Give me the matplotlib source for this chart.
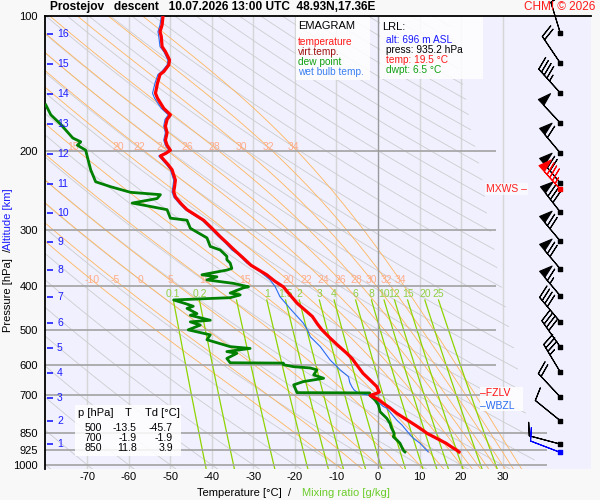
import numpy as np
import matplotlib
matplotlib.use("Agg")
import matplotlib.pyplot as plt
from matplotlib.patches import Rectangle

plt.rcParams['font.family'] = ['Liberation Sans', 'DejaVu Sans']

# ---- sounding ----
t_p = [935.2, 930, 910, 894.6, 872, 850, 838, 820, 800, 767,
       745, 729, 712, 700, 694, 688, 679, 669, 647, 625,
       599, 580, 564, 540, 522, 500, 485, 467, 450, 436,
       420, 401, 390, 377, 359, 345, 332, 320, 310, 297,
       285, 270, 262, 253, 246, 240, 232, 226, 220, 214,
       209, 205, 202, 199, 194, 189, 182, 176, 170, 166,
       160.6, 152.5, 148.6, 141, 135, 133, 128.6, 125.3, 120, 117,
       111, 108.4, 104.7, 100.4]
t_c = [19.5, 19.2, 17.6, 16.4, 14.1, 11.8, 10.9, 9.4, 7.6, 4.5,
       2.8, 1.3, -0.2, -1.9, -0.6, 0.3, 0.0, -0.3, -1.9, -3.6,
       -5.1, -6.2, -7.5, -9.8, -11.5, -13.5, -14.6, -15.8, -17.8, -19.5,
       -21.0, -22.8, -24.8, -26.8, -30.6, -32.6, -34.6, -36.4, -38.0, -40.0,
       -42.0, -46.0, -47.4, -48.8, -49.2, -49.0, -48.8, -49.2, -49.6, -50.6,
       -51.6, -52.4, -51.0, -50.0, -50.8, -51.2, -50.8, -51.2, -50.8, -50.0,
       -51.6, -53.1, -53.6, -53.1, -52.5, -51.6, -50.4, -50.2, -51.2, -52.0,
       -52.2, -52.5, -52.0, -51.8]

tw_p = [935.2, 894, 872, 843, 815, 794, 770, 747, 741, 720,
        700, 692, 680, 669, 655, 636, 614, 584, 545, 518,
        500, 483, 448, 422, 400, 387, 371, 355, 340, 332,
        320, 310, 297, 285, 270, 262, 253, 246, 240, 232,
        226, 220, 214, 209, 205, 202, 199, 194, 189, 182,
        176, 170, 166, 160.6, 152.5, 148.6, 141, 135, 133, 128.6,
        125.3, 120, 117, 111, 108.4, 104.7, 100.4]
tw_c = [12.1, 10.1, 8.5, 7.1, 5.8, 4.5, 3.3, 2.1, 1.3, -0.3,
        -1.9, -4.7, -5.8, -6.3, -6.8, -7.1, -9.1, -11.5, -13.9, -16.3,
        -17.0, -18.0, -21.2, -23.6, -24.8, -26.0, -28.4, -31.6, -33.6, -35.2,
        -36.8, -38.4, -40.4, -42.4, -46.4, -47.8, -49.2, -49.6, -49.4, -49.2,
        -49.6, -50.0, -51.0, -52.0, -52.8, -51.4, -50.4, -51.2, -51.6, -51.2,
        -51.6, -51.3, -50.5, -52.2, -53.8, -54.3, -53.7, -53.0, -52.1, -50.8,
        -50.6, -51.6, -52.5, -52.8, -53.0, -52.5, -52.2]

td_p = [935.2, 930, 915, 894.6, 879, 865, 850, 843, 825, 808,
        787, 761, 735, 717, 700, 691, 690, 663, 652, 641,
        630, 614, 608, 604, 598, 593, 592, 579, 564, 559,
        550, 545, 526, 513, 500, 488, 480, 476, 464, 460,
        448, 443, 437, 429, 426, 424, 418, 414, 403, 401,
        394, 387, 381, 377, 368, 365, 355, 349, 343, 332,
        326, 312, 297, 285, 282, 270, 263, 261, 255, 250,
        247, 240, 234, 220, 206, 199, 194, 190.6, 187, 180.8,
        174.3, 166, 157.8]
td_c = [6.5, 6.2, 5.8, 5.3, 4.5, 3.7, 3.9, 3.7, 3.2, 2.9,
        2.1, 0.5, 0.1, -0.7, -1.9, -2.0, -19.5, -20.3, -18.0, -13.1,
        -15.5, -14.7, -16.3, -20.3, -22.8, -22.8, -35.6, -36.4, -34.0, -36.4,
        -30.8, -35.6, -41.2, -40.4, -45.7, -42.8, -45.2, -40.4, -45.2, -43.6,
        -46.0, -44.5, -46.4, -49.2, -41.2, -35.6, -33.2, -35.6, -32.4, -31.2,
        -34.8, -41.2, -38.8, -42.4, -36.4, -35.2, -35.6, -36.4, -36.4, -38.0,
        -40.4, -41.2, -45.2, -46.0, -50.0, -50.8, -57.2, -59.2, -53.2, -52.4,
        -59.6, -64.4, -68.0, -69.2, -70.0, -70.4, -72.4, -71.6, -73.5, -74.9,
        -76.4, -78.8, -80.0]

# wind, roughly every km
wind_p = [109.1, 127.3, 148.4, 173.1, 201.9, 235.5, 273.3, 317.1, 365.9, 420.1,
          480.3, 546.0, 620.7, 705.6, 796.7, 898.4]
wind_dir = [343, 326, 318, 317, 320, 320, 322, 320, 320, 320,
            320, 325, 329, 317, 309, 285]
wind_kt = [10, 20, 45, 50, 60, 70, 80, 70, 70, 65,
           40, 40, 35, 20, 10, 10]
mxws_p, mxws_dir, mxws_kt = 242.9, 318, 85
lrl_wind_dir, lrl_wind_kt = 291, 10

# altitude marks [km] and their pressure
alt_km = list(range(1, 17))
alt_p = [897.5, 796.7, 708.0, 623.3, 548.7, 483.0, 422.6, 367.7, 318.5, 274.6,
         236.6, 202.9, 174.0, 149.1, 127.9, 109.7]

# surface (LRL) info and table
lrl_alt, lrl_p, lrl_t, lrl_td = 696, 935.2, 19.5, 6.5
tab_p = [500, 700, 850]
tab_t = [-13.5, -1.9, 11.8]
tab_td = [-45.7, -1.9, 3.9]
fzlv_p, wbzl_p = 691, 739

# diagram background sets
isobar_p = [200, 300, 400, 500, 600, 700, 850, 925, 1000]
isobar_end = [28.4, 28.4, 28.4, 28.4, 28.4, 28.4, 40.7, 40.7, 40.7]
isotherms = list(range(-70, 31, 10))
theta_c = np.arange(-80, 300, 10)
thw_c = [-10, -5, 0, 5, 10, 15, 20, 22, 24, 26, 28, 30, 32, 34]
mix_g = [0.1, 0.2, 0.5, 1, 1.5, 2, 3, 4, 6, 8, 10, 12, 15, 20, 25]
mix_lab = ['0.1', '0.2', '.5', '1', '1.5', '2', '3', '4', '6', '8', '10', '12', '15', '20', '25']

PTOP, PBOT = 100, 1020.7
TMIN, TMAX = -80.2, 51.3

Rd, Cpd, Lv, eps = 287.04, 1005.7, 2.501e6, 0.622


def es(tk):
    return 6.112 * np.exp(17.67 * (tk - 273.15) / (tk - 29.65))


def dtdp(tk, p):
    rs = eps * es(tk) / (p - es(tk))
    return (Rd * tk + Lv * rs) / (p * (Cpd + Lv ** 2 * rs * eps / (Rd * tk ** 2)))


def moist(t0, pg):
    tk = np.array(t0, float) + 273.15
    out = [tk.copy()]
    for i in range(1, len(pg)):
        dp = pg[i] - pg[i - 1]
        k1 = dtdp(tk, pg[i - 1])
        k2 = dtdp(tk + k1 * dp, pg[i])
        tk = tk + 0.5 * (k1 + k2) * dp
        out.append(tk.copy())
    return np.array(out) - 273.15


fig = plt.figure(figsize=(6, 5), dpi=100, facecolor='#f8f8f8')
ax = fig.add_axes([45 / 600, 1 - 469 / 500, 546 / 600, 453 / 500])
ax.set_facecolor('#f0f0ff')
ax.set_yscale('log')
ax.set_ylim(PBOT, PTOP)
ax.set_xlim(TMIN, TMAX)

pg = np.geomspace(PBOT, PTOP, 300)

# isotherms
ax.vlines([t for t in isotherms if t != 0], PBOT, PTOP, colors='#d6d6d6', lw=1.0, zorder=1)
ax.vlines([0], PBOT, PTOP, colors='#9a9a9a', lw=1.0, zorder=1.6)

# dry adiabats, cut at the right side
tlim = 24.9 + 21 * np.log10(pg / 228.0)
for th in theta_c:
    tt = (th + 273.15) * (pg / 1000.0) ** 0.286 - 273.15
    tt = np.where(tt > tlim, np.nan, tt)
    ax.plot(tt, pg, color='#cdcdcd', lw=0.6, zorder=1.1)

# pseudo-adiabats
pu = np.arange(1000, 99, -2.0)
pd = np.arange(1000, 1022, 2.0)
mu = moist(thw_c, pu)
md = moist(thw_c, pd)
for i in range(len(thw_c)):
    ax.plot(np.r_[md[::-1, i], mu[:, i]], np.r_[pd[::-1], pu], color='#ffb65c', lw=0.6, zorder=1.2)
    for plab in (196, 388):
        tl = np.interp(-plab, -pu, mu[:, i])
        if TMIN + 2 < tl < TMAX:
            ax.text(tl, plab, str(thw_c[i]), color='#ffad8a', fontsize=7.5,
                    ha='center', va='center', zorder=1.3)

# mixing ratio lines
pm = np.geomspace(PBOT, 429, 60)
for w, lab in zip(mix_g, mix_lab):
    e = w / 1000 * pm / (eps + w / 1000)
    lne = np.log(e / 6.112)
    td = 243.5 * lne / (17.67 - lne)
    ax.plot(td, pm, color='#8fd400', lw=0.9, zorder=1.4)
    ax.text(td[-1], 417, lab, color='#92d040', fontsize=7.5, ha='center', va='center', zorder=1.4)

# isobars
ax.hlines(isobar_p, TMIN, isobar_end, colors='#a3a3a3', lw=1.2, zorder=1.5)

# profiles
ax.plot(tw_c, tw_p, color='#2a6cf0', lw=0.8, zorder=3)
ax.plot(td_c, td_p, color='#008000', lw=2.0, zorder=3.1)
ax.plot(t_c, t_p, color='#ff0000', lw=2.3, zorder=3.2)

# wind barbs
xb = 43.9
blen = 6.8
d = np.radians(wind_dir)
s = np.array(wind_kt, float)
ax.barbs(np.full(len(wind_p), xb), wind_p, -s * np.sin(d), -s * np.cos(d),
         length=blen, lw=0.8, color='k', zorder=5, clip_on=False)
ax.scatter(np.full(len(wind_p), xb), wind_p, marker='s', s=6, color='k', zorder=5, clip_on=False)
dm = np.radians(mxws_dir)
ax.barbs([xb], [mxws_p], [-mxws_kt * np.sin(dm)], [-mxws_kt * np.cos(dm)],
         length=blen, lw=0.8, color='red', zorder=5.5)
ax.scatter([xb], [mxws_p], marker='s', s=6, color='red', zorder=5.5)
dl = np.radians(lrl_wind_dir)
ax.barbs([xb], [lrl_p], [-lrl_wind_kt * np.sin(dl)], [-lrl_wind_kt * np.cos(dl)],
         length=blen, lw=0.8, color='#0000ff', zorder=5.5)
ax.scatter([xb], [lrl_p], marker='s', s=6, color='#0000ff', zorder=5.5)

ax.text(35.9, mxws_p, 'MXWS \u2013', color='#ff2020', fontsize=7.5, ha='right', va='center', zorder=6,
        bbox=dict(boxstyle='square,pad=0.1', fc='white', ec='none', alpha=0.6))
ax.add_patch(Rectangle((480 / 600, 1 - 411 / 500), 43 / 600, 24 / 500, transform=fig.transFigure,
                       fc='white', ec='none', alpha=0.85, zorder=6, clip_on=False))
ax.text(24.6, fzlv_p, '\u2013FZLV', color='#ff1010', fontsize=7.5, ha='left', va='center', zorder=7)
ax.text(24.6, wbzl_p, '\u2013WBZL', color='#2a6cf0', fontsize=7.5, ha='left', va='center', zorder=7)

# altitude marks
ytr = ax.get_yaxis_transform()
ax.hlines(alt_p, 2 / 546, 8 / 546, transform=ytr, colors='#1c1cff', lw=1.2, zorder=4)
for km, pk in zip(alt_km, alt_p):
    ax.text(12 / 546, pk, str(km), transform=ytr, color='#1c1cff', fontsize=7.5,
            ha='left', va='center', zorder=4)

# axes cosmetics
for side in ('right', 'bottom'):
    ax.spines[side].set_visible(False)
ax.spines['left'].set_linewidth(1.3)
ax.spines['top'].set_linewidth(1.3)
ax.set_yticks([100] + isobar_p)
ax.set_yticklabels([str(p) for p in [100] + isobar_p])
ax.minorticks_off()
ax.set_xticks(isotherms)
ax.set_xticklabels([str(t) for t in isotherms])
ax.tick_params(axis='y', length=0, pad=5, labelsize=8)
ax.tick_params(axis='x', length=0, pad=2, labelsize=8)


def fx(x):
    return x / 600


def fy(y):
    return 1 - y / 500


# boxes
for (x0, y0, x1, y1) in [(296, 17, 370, 80), (380, 17, 483, 79), (75, 405, 181, 456)]:
    ax.add_patch(Rectangle((fx(x0), fy(y1)), fx(x1 - x0), (y1 - y0) / 500, transform=fig.transFigure,
                           fc='white', ec='none', alpha=0.85, zorder=8, clip_on=False))

fig.text(fx(298), fy(26), 'EMAGRAM', fontsize=8, va='center', zorder=9)
for txt, col, yy in [('temperature', '#ff1a1a', 42), ('virt.temp.', '#a01010', 52),
                     ('dew point', '#10a010', 62), ('wet bulb temp.', '#3a7ff0', 72)]:
    fig.text(fx(298), fy(yy), txt, color=col, fontsize=7.3, va='center', zorder=9)

fig.text(fx(382), fy(27), 'LRL:', fontsize=8, va='center', zorder=9)
for txt, col, yy in [('alt: %d m ASL' % lrl_alt, '#1a1aff', 40),
                     ('press: %.1f hPa' % lrl_p, 'black', 50),
                     ('temp: %.1f \u00b0C' % lrl_t, '#ff1a1a', 60),
                     ('dwpt: %.1f \u00b0C' % lrl_td, '#10a010', 70)]:
    fig.text(fx(386), fy(yy), txt, color=col, fontsize=7.3, va='center', zorder=9)

fig.text(fx(78), fy(413), 'p [hPa]', fontsize=8, va='center', zorder=9)
fig.text(fx(128), fy(413), 'T', fontsize=8, va='center', ha='center', zorder=9)
fig.text(fx(145), fy(413), 'Td [\u00b0C]', fontsize=8, va='center', zorder=9)
for i, p in enumerate(tab_p):
    yy = 428 + 10 * i
    fig.text(fx(102), fy(yy), str(p), fontsize=7.6, va='center', ha='right', zorder=9)
    fig.text(fx(137), fy(yy), '%.1f' % tab_t[i], fontsize=7.6, va='center', ha='right', zorder=9)
    fig.text(fx(173), fy(yy), '%.1f' % tab_td[i], fontsize=7.6, va='center', ha='right', zorder=9)

# title and labels
fig.text(fx(50), fy(7), 'Prostejov   descent   10.07.2026 13:00 UTC  48.93N,17.36E',
         fontsize=8.6, fontweight='bold', va='center')
fig.text(fx(595), fy(7), 'CHMI \u00a9 2026', color='#ff1a1a', fontsize=8.5, va='center', ha='right')
fig.text(fx(197), fy(493), 'Temperature [\u00b0C]  /', fontsize=8, va='center')
fig.text(fx(302), fy(493), 'Mixing ratio [g/kg]', color='#6ccc2a', fontsize=8, va='center')
fig.text(fx(8), fy(332), 'Pressure [hPa]  /', fontsize=8, rotation=90, ha='center', va='bottom')
fig.text(fx(8), fy(250), 'Altitude [km]', color='#1c1cff', fontsize=8, rotation=90, ha='center', va='bottom')

fig.savefig('out.png', dpi=100, facecolor=fig.get_facecolor())
